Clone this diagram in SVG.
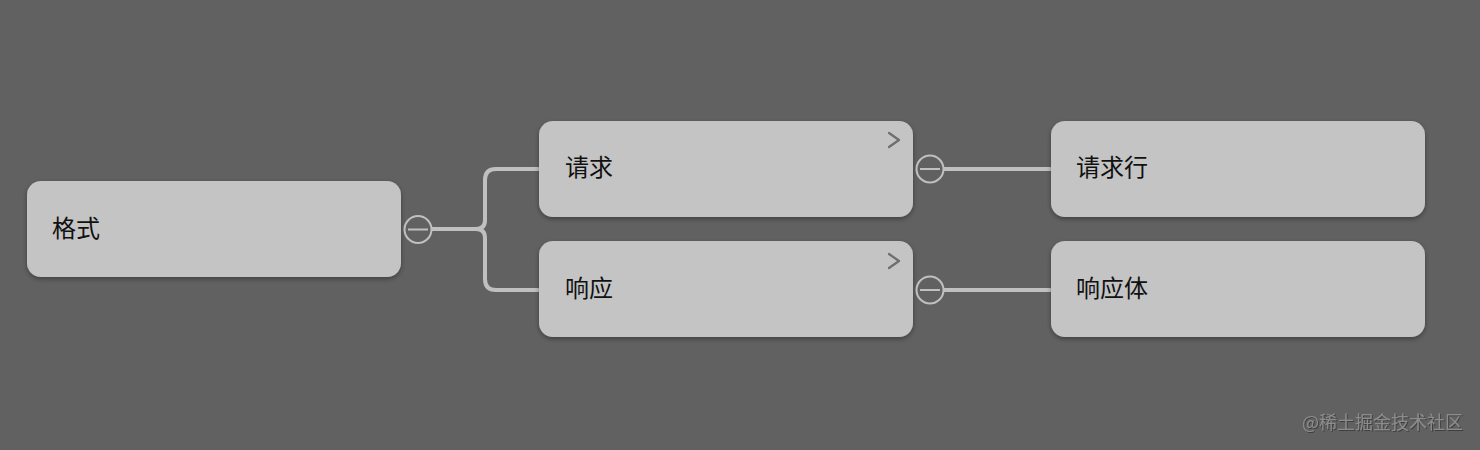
<svg xmlns="http://www.w3.org/2000/svg" width="1480" height="450" viewBox="0 0 1480 450">
<defs>
<filter id="sh" x="-10%" y="-20%" width="120%" height="150%">
<feDropShadow dx="0" dy="2" stdDeviation="2.5" flood-color="#000" flood-opacity="0.35"/>
</filter>
<filter id="tsh" x="-5%" y="-20%" width="110%" height="150%">
<feDropShadow dx="1" dy="1" stdDeviation="0.3" flood-color="#3a3a3a" flood-opacity="0.9"/>
</filter>
</defs>
<style>
.box{fill:#c4c4c4;filter:url(#sh)}
.lbl{font-family:"Noto Sans CJK SC","Noto Sans",sans-serif;font-size:24px;fill:#111}
.conn{fill:none;stroke:#c0c0c0;stroke-width:4;stroke-linecap:round;stroke-linejoin:round}
.tog{fill:#616161;stroke:#c0c0c0;stroke-width:2}
.tog-m{stroke:#c0c0c0;stroke-width:2}
.chev{fill:none;stroke:#6e6e6e;stroke-width:2.2;stroke-linecap:round;stroke-linejoin:round}
.wm{font-family:"Noto Sans CJK SC","Noto Sans",sans-serif;font-size:18px;fill:#8c8c8c;filter:url(#tsh)}
</style>
<rect width="1480" height="450" fill="#616161"/>
<g id="connectors">
<path class="conn" d="M432 229 H476 Q485 229 485 220 V180 Q485 169 496 169 H538"/>
<path class="conn" d="M476 229 Q485 229 485 238 V279 Q485 290 496 290 H538"/>
<path class="conn" d="M944 169 H1050"/>
<path class="conn" d="M944 290 H1050"/>
</g>
<g id="node-format">
<rect class="box" x="27" y="181" width="374" height="96" rx="14"/>
<text class="lbl" x="52" y="237">格式</text>
<circle class="tog" cx="418" cy="229.5" r="13.5"/>
<line class="tog-m" x1="408" y1="229.5" x2="428" y2="229.5"/>
</g>
<g id="node-request">
<rect class="box" x="539" y="121" width="374" height="96" rx="14"/>
<text class="lbl" x="565" y="176">请求</text>
<path class="chev" d="M889 133 L899 140 L889 147"/>
<circle class="tog" cx="930" cy="169" r="13.5"/>
<line class="tog-m" x1="920" y1="169" x2="940" y2="169"/>
</g>
<g id="node-response">
<rect class="box" x="539" y="241" width="374" height="96" rx="14"/>
<text class="lbl" x="565" y="297">响应</text>
<path class="chev" d="M889 254 L899 261 L889 268"/>
<circle class="tog" cx="930" cy="290" r="13.5"/>
<line class="tog-m" x1="920" y1="290" x2="940" y2="290"/>
</g>
<g id="node-request-line">
<rect class="box" x="1051" y="121" width="374" height="96" rx="14"/>
<text class="lbl" x="1076" y="176">请求行</text>
</g>
<g id="node-response-body">
<rect class="box" x="1051" y="241" width="374" height="96" rx="14"/>
<text class="lbl" x="1076" y="297">响应体</text>
</g>
<text class="wm" x="1302" y="429">@稀土掘金技术社区</text>
</svg>
